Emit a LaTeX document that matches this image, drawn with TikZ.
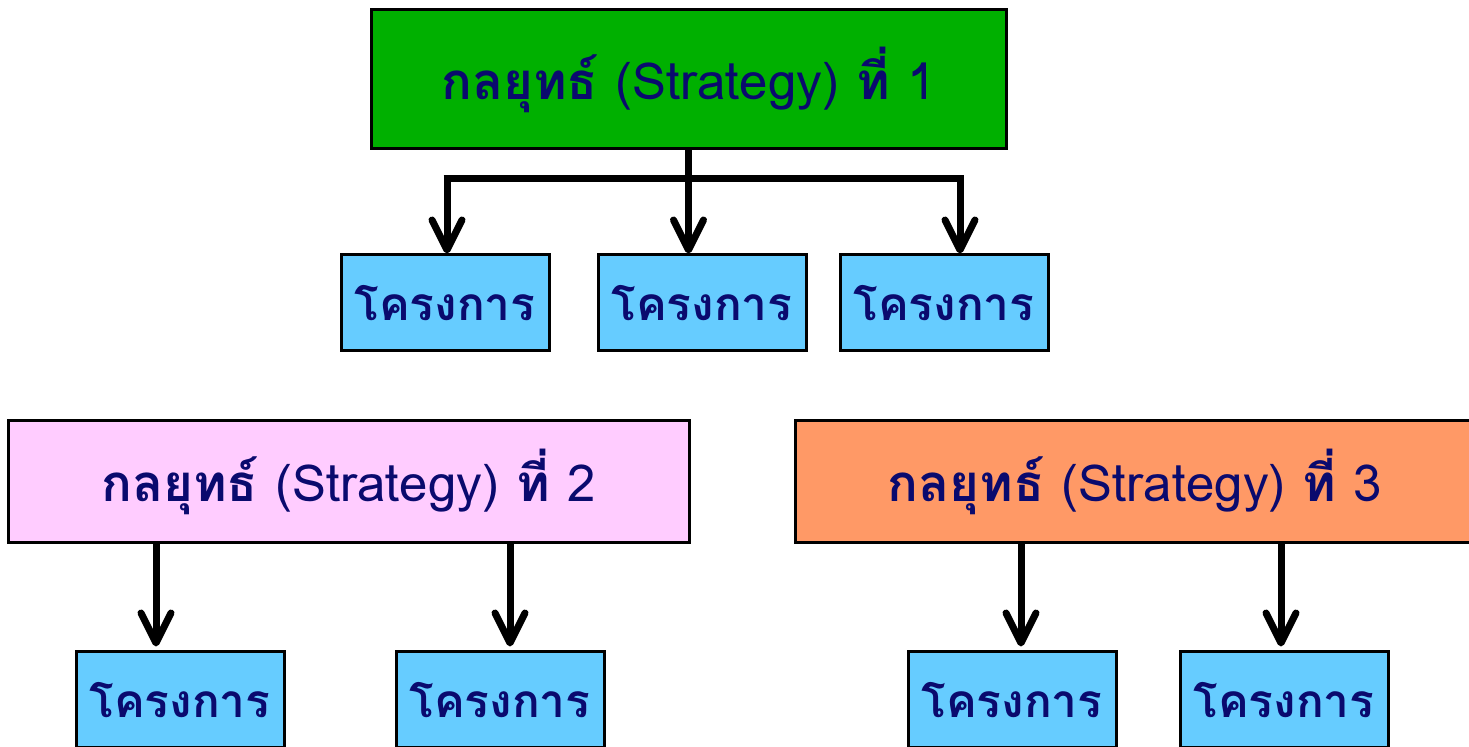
\documentclass[tikz,border=0pt]{standalone}
\usepackage{fontspec}
\setmainfont[Script=Thai]{Loma}
\usepackage{tikz}
\usetikzlibrary{arrows.meta}
\usetikzlibrary{positioning}
\definecolor{stratgreen}{HTML}{00B000}
\definecolor{stratpink}{HTML}{FFCCFF}
\definecolor{stratorange}{HTML}{FF9966}
\definecolor{projblue}{HTML}{66CCFF}
\definecolor{labelnavy}{HTML}{0A0A6E}
\tikzset{
    strat/.style={
           rectangle,
           draw=black,
           line width=1.5pt,
           text=labelnavy,
           font=\fontsize{25.5}{30}\selectfont,
           inner sep=0pt,
           text centered,
           },
    proj/.style={
           rectangle,
           draw=black,
           fill=projblue,
           line width=1.5pt,
           text=labelnavy,
           font=\fontsize{23}{28}\selectfont\bfseries,
           minimum width=104pt,
           minimum height=48pt,
           inner sep=0pt,
           text centered,
           },
    link/.style={
           line width=3.5pt,
           },
}
\newcommand{\stratlabel}[1]{{\bfseries กลยุทธ์} (Strategy) {\bfseries ที่} #1}

\begin{document}
\begin{tikzpicture}[x=0.5pt,y=-0.5pt,
  ->,>={Straight Barb[length=15pt,width=15pt,line cap=round,line join=round]}]
 \useasboundingbox (0,0) rectangle (1469,747);

 \node[strat,
 fill=stratgreen,
 minimum width=317.5pt,
 minimum height=69.5pt,
 ] (STRAT1) at (688.5,79.5)
 {\stratlabel{1}};

 \node[strat,
 fill=stratpink,
 minimum width=340.5pt,
 minimum height=61pt,
 ] (STRAT2) at (348.5,482)
 {\stratlabel{2}};

 \node[strat,
 fill=stratorange,
 minimum width=340pt,
 minimum height=61pt,
 ] (STRAT3) at (1135,482)
 {\stratlabel{3}};

 % projects of strategy 1
 \node[proj] (PROJ1A) at (445,303) {โครงการ};
 \node[proj, right=23pt of PROJ1A] (PROJ1B) {โครงการ};
 \node[proj, right=15.5pt of PROJ1B] (PROJ1C) {โครงการ};

 % projects of strategy 2 and 3
 \node[proj] (PROJ2A) at (180,700) {โครงการ};
 \node[proj, right=54.5pt of PROJ2A] (PROJ2B) {โครงการ};
 \node[proj] (PROJ3A) at (1012,700) {โครงการ};
 \node[proj, right=30.5pt of PROJ3A] (PROJ3B) {โครงการ};

 \coordinate (BARL) at (447,179);
 \coordinate (BARR) at (960,179);

 \draw[link,-] (STRAT1.south) -- (STRAT1.south |- BARL);
 \draw[link,-] ([xshift=-1.75pt]BARL) -- ([xshift=1.75pt]BARR);
 \draw[link] (BARL) -- (BARL |- PROJ1A.north);
 \draw[link] (STRAT1.south |- BARL) -- (STRAT1.south |- PROJ1B.north);
 \draw[link] (BARR) -- (BARR |- PROJ1C.north);

 \draw[link,shorten >=2pt] ([xshift=-12pt]PROJ2A.north |- STRAT2.south) -- ([xshift=-12pt]PROJ2A.north);
 \draw[link,shorten >=2pt] ([xshift=5pt]PROJ2B.north |- STRAT2.south) -- ([xshift=5pt]PROJ2B.north);
 \draw[link,shorten >=2pt] ([xshift=4.5pt]PROJ3A.north |- STRAT3.south) -- ([xshift=4.5pt]PROJ3A.north);
 \draw[link,shorten >=2pt] ([xshift=-1.5pt]PROJ3B.north |- STRAT3.south) -- ([xshift=-1.5pt]PROJ3B.north);
\end{tikzpicture}
\end{document}
